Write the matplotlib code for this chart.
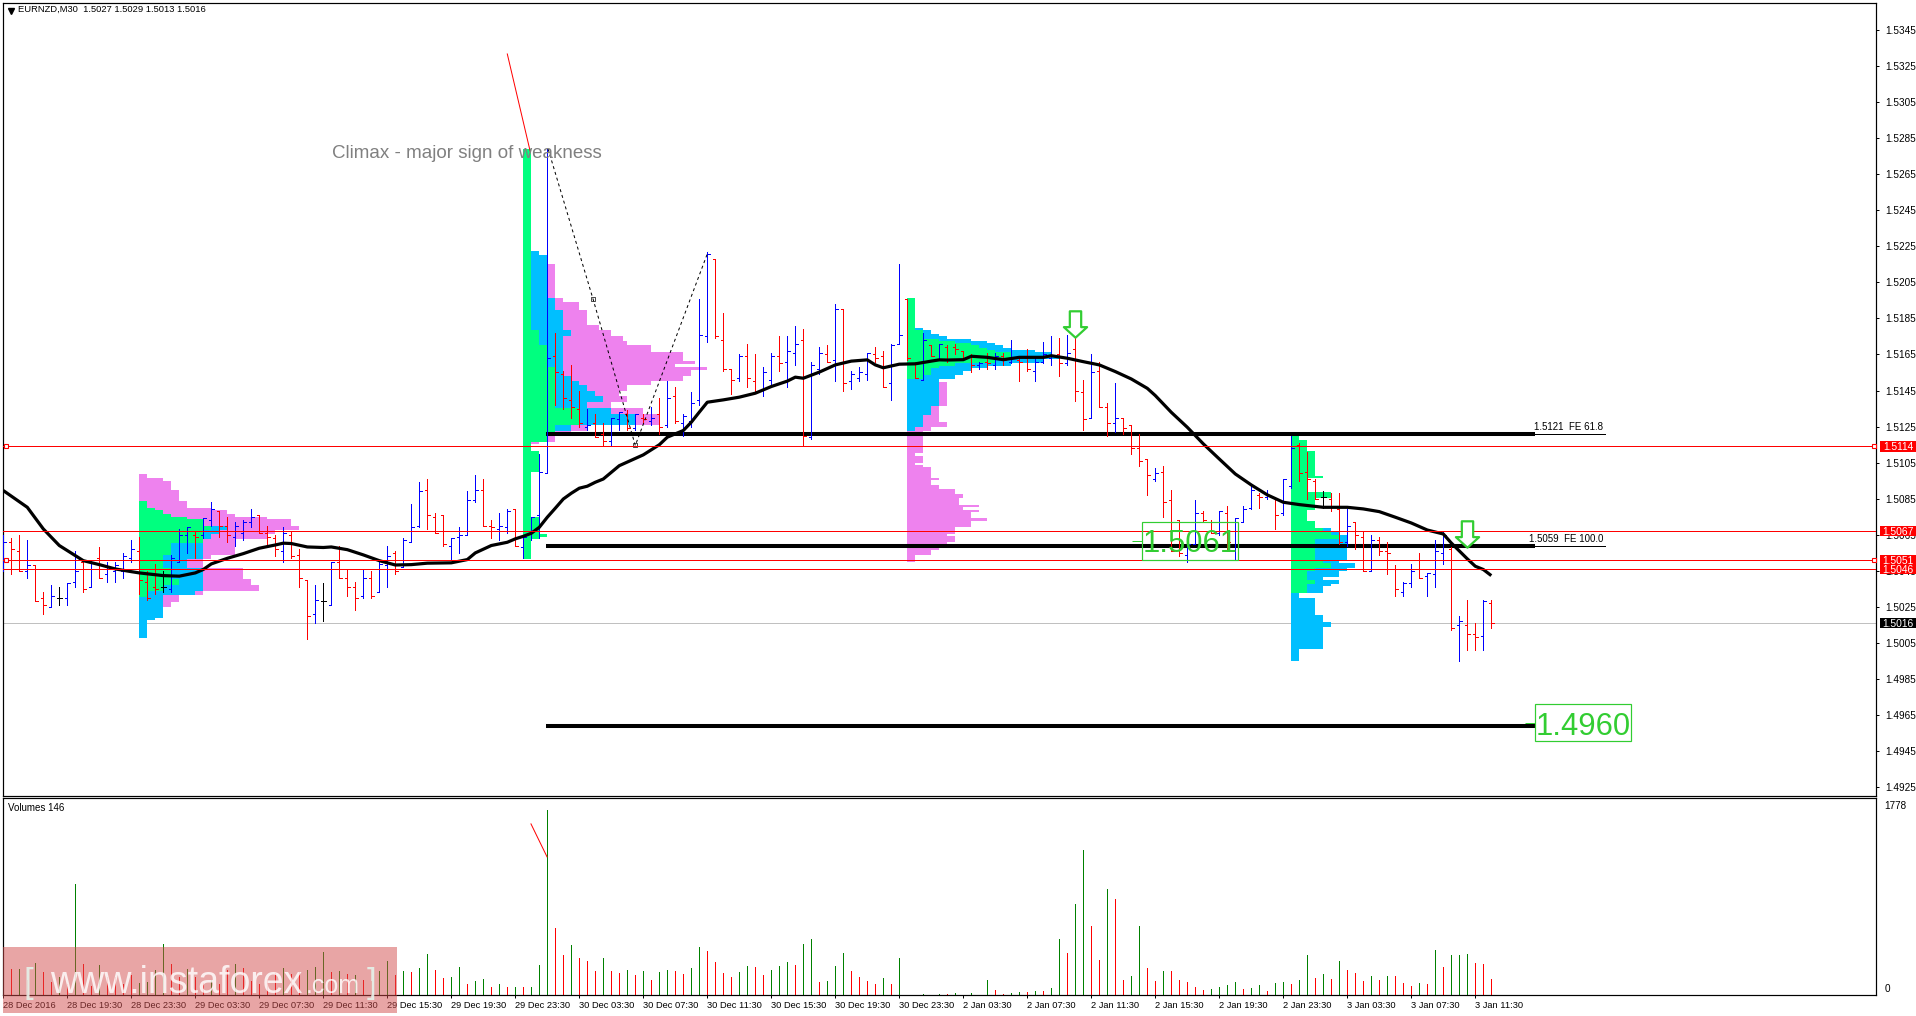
import numpy as np
import matplotlib
matplotlib.use("Agg")
import matplotlib.pyplot as plt
from matplotlib.patches import Rectangle
from matplotlib.path import Path
from matplotlib.transforms import blended_transform_factory

plt.rcParams['font.family'] = ['Liberation Sans', 'DejaVu Sans']

# EURNZD M30 bars, prices in pips (value / 10000)
bar_high = [15065,15063,15065,15062,15048,15033,15037,15036,15038,15056,
    15050,15051,15058,15050,15050,15055,15062,15064,15045,15049,
    15045,15054,15068,15069,15067,15074,15083,15078,15075,15072,
    15073,15079,15076,15070,15065,15069,15067,15057,15040,15037,
    15038,15050,15059,15046,15039,15046,15045,15050,15059,15056,
    15063,15082,15094,15096,15077,15076,15063,15069,15089,15098,
    15096,15073,15077,15079,15079,15065,15075,15110,15279,15177,
    15156,15159,15145,15135,15132,15127,15130,15133,15134,15132,
    15132,15136,15141,15150,15147,15132,15144,15196,15222,15218,
    15188,15157,15165,15171,15165,15158,15166,15175,15175,15181,
    15179,15161,15169,15170,15193,15190,15156,15158,15166,15169,
    15167,15171,15215,15196,15161,15177,15170,15171,15170,15171,
    15167,15165,15161,15166,15166,15166,15173,15163,15168,15163,
    15172,15175,15174,15176,15179,15151,15165,15161,15138,15149,
    15130,15126,15121,15107,15102,15103,15090,15073,15063,15084,
    15078,15073,15078,15081,15074,15081,15092,15088,15090,15086,
    15096,15120,15116,15111,15096,15089,15088,15088,15079,15072,
    15067,15065,15064,15061,15048,15039,15049,15055,15044,15062,
    15067,15058,15020,15029,15016,15029,15029]
bar_low = [15045,15043,15045,15041,15028,15021,15025,15026,15026,15036,
    15033,15036,15041,15039,15039,15041,15050,15032,15029,15032,
    15033,15033,15050,15055,15052,15063,15070,15064,15061,15059,
    15062,15069,15066,15060,15053,15050,15052,15036,15007,15016,
    15017,15026,15041,15031,15023,15030,15030,15033,15036,15043,
    15047,15061,15069,15068,15066,15059,15051,15055,15065,15083,
    15070,15063,15062,15066,15059,15052,15062,15063,15099,15137,
    15135,15130,15125,15123,15119,15115,15115,15123,15123,15123,
    15127,15126,15121,15125,15127,15120,15125,15137,15172,15174,
    15156,15143,15150,15147,15144,15142,15148,15156,15147,15159,
    15115,15118,15154,15161,15150,15145,15146,15150,15151,15161,
    15147,15140,15171,15162,15152,15151,15164,15162,15161,15165,
    15163,15155,15157,15157,15157,15159,15160,15150,15156,15150,
    15160,15159,15153,15159,15139,15123,15130,15136,15120,15122,
    15121,15110,15103,15087,15095,15075,15056,15053,15050,15060,
    15072,15066,15065,15056,15051,15072,15079,15080,15085,15068,
    15076,15091,15095,15085,15085,15080,15078,15060,15059,15057,
    15045,15045,15054,15043,15031,15031,15036,15041,15031,15036,
    15049,15012,14995,15001,15001,15001,15013]
bar_open = [15060,15061,15056,15045,15048,15030,15025,15030,15030,15039,
    15050,15036,15052,15043,15045,15045,15052,15056,15039,15036,
    15036,15035,15050,15065,15065,15065,15073,15078,15070,15064,
    15066,15072,15076,15066,15063,15056,15065,15054,15040,15021,
    15028,15026,15050,15041,15036,15031,15041,15033,15048,15055,
    15047,15061,15070,15090,15075,15076,15059,15064,15065,15084,
    15090,15070,15068,15069,15079,15058,15066,15076,15099,15164,
    15154,15140,15135,15125,15127,15121,15117,15129,15132,15124,
    15130,15128,15132,15126,15142,15127,15128,15140,15175,15218,
    15173,15157,15152,15164,15150,15146,15151,15164,15161,15166,
    15173,15119,15157,15165,15162,15190,15150,15152,15154,15165,
    15164,15149,15171,15196,15160,15151,15170,15162,15169,15169,
    15167,15164,15159,15161,15159,15164,15161,15162,15163,15156,
    15161,15163,15165,15160,15168,15144,15130,15156,15136,15127,
    15130,15126,15113,15107,15096,15100,15084,15073,15054,15060,
    15077,15072,15066,15077,15051,15072,15080,15087,15086,15086,
    15077,15092,15115,15100,15095,15086,15085,15079,15061,15072,
    15064,15045,15062,15056,15046,15033,15038,15046,15042,15043,
    15055,15057,15015,15015,15010,15009,15027]
bar_close = [15061,15057,15045,15048,15028,15026,15031,15030,15038,15045,
    15035,15051,15041,15047,15048,15053,15057,15040,15030,15035,
    15036,15052,15065,15069,15064,15074,15079,15070,15065,15070,
    15072,15075,15066,15064,15057,15066,15053,15041,15020,15029,
    15028,15050,15041,15036,15030,15041,15031,15049,15053,15045,
    15062,15069,15089,15076,15066,15060,15063,15065,15084,15090,
    15070,15069,15070,15078,15059,15064,15075,15100,15163,15155,
    15141,15136,15127,15126,15119,15117,15130,15133,15124,15132,
    15129,15130,15125,15141,15128,15131,15138,15176,15221,15175,
    15157,15151,15164,15152,15145,15155,15164,15160,15167,15171,
    15120,15159,15166,15161,15190,15149,15154,15155,15166,15163,
    15147,15170,15176,15163,15152,15173,15164,15171,15162,15168,
    15163,15159,15160,15160,15164,15162,15163,15161,15157,15161,
    15165,15164,15160,15166,15145,15129,15155,15136,15127,15130,
    15124,15113,15106,15098,15099,15083,15056,15055,15060,15077,
    15073,15066,15078,15061,15074,15079,15090,15086,15087,15076,
    15096,15113,15099,15096,15085,15086,15081,15061,15070,15065,
    15045,15062,15056,15055,15035,15038,15045,15041,15044,15056,
    15065,15013,15017,15010,15008,15028,15016]

# moving average, read at these bars
ma_idx = [0,3,5,7,9,10,12,14,16,17,20,22,24,25,26,28,30,32,34,35,36,38,40,41,43,45,47,49,51,53,56,58,59,61,
    62,63,64,65,66,67,68,69,70,71,72,73,74,75,76,77,78,80,82,83,85,86,87,88,90,92,94,96,98,99,100,102,104,
    106,108,109,110,112,114,116,117,118,120,121,123,125,127,130,131,133,135,137,139,141,143,144,146,148,150,
    152,154,156,158,160,162,165,168,170,172,174,176,178,180,181,183,184,185,186]
ma_val = [15089.5,15080.2,15068.2,15059,15053.4,15050.6,15048.4,15046,15044.5,15043.8,15042.3,15042,15043.8,
    15045.7,15048.8,15051.9,15054.5,15057.5,15059.3,15060.3,15060.1,15058.2,15057.9,15058.2,15056.7,15053.8,
    15050.6,15048.2,15048.4,15049.2,15049.4,15051.2,15054.9,15059,
    15059.9,15060.8,15062.7,15064.1,15065.8,15069.1,15074.7,15079.7,15084.8,15088,15090.8,15091.9,15094.1,
    15095.9,15099.6,15103.3,15105.3,15109.3,15114.9,15119.1,15122.8,15127.4,15133,15138.5,15139.8,15141.3,
    15143.5,15147.2,15150.2,15152.4,15151.8,15155.2,15159.2,15161.3,15162,15159.2,15157.6,15159.6,15159.8,
    15161.3,15162,15161.9,15162.1,15164,15163.4,15162.1,15163.4,15163.4,15164.3,15162.9,15161,15159.2,15155.5,
    15151.4,15146.2,15142.2,15132.9,15124.6,15115.4,15107,15098.7,15092.6,15087.1,15083,15081.7,15080.2,
    15080.2,15079.3,15077.8,15074.7,15071.5,15067.6,15065.4,15060.4,15051.6,15047.5,15045.7,15042.3]

volumes = [250,250,252,144,307,221,125,173,106,1066,298,86,288,173,173,106,192,118,125,240,
    490,298,176,250,173,115,144,106,240,298,259,134,106,154,211,259,202,221,240,269,
    413,221,230,202,192,144,134,230,326,192,230,221,259,394,240,163,173,269,106,134,
    154,77,106,77,77,77,77,288,1778,643,384,480,355,326,230,355,230,211,240,192,
    230,144,221,240,230,202,259,461,422,317,211,173,221,278,269,192,240,278,317,288,
    490,538,125,134,278,403,230,173,134,106,163,106,355,2,2,10,2,10,10,19,
    2,19,2,144,48,10,19,29,29,38,38,67,538,403,874,1392,662,336,1018,922,
    144,182,662,259,134,230,230,144,125,77,48,58,77,96,125,58,67,96,38,115,
    125,106,144,384,163,202,154,326,240,211,134,182,144,182,182,115,86,115,106,432,
    269,384,384,394,307,298,154]
vol_dirs = ("grgrgrrgrg" "rrgrrrrggg" "grrgrrgrrg" "rrrrrgrrgg" "grgrgrrggr"
            "grggrrggrg" "grgrgrgggr" "rgrrrgrrgr" "grggrrggrr" "rrggrrgggr"
            "ggrgggrrrr" "grgrrgrgrg" "rgrgrrggrg" "rggrggrrgr" "rggrrgrrrr"
            "rggggrggrg" "grggrgrgrr" "rgrgrrrgrg" "rgggrrr")

# volume profiles: row edges in pips, cumulative widths in bars (green, blue, pink)
vp1_start = 17
vp1_edges = [15098.7,15096.5,15094.8,15090,15083.9,15079.8,15078.7,15076.5,15075,15073.7,15069.9,15067.6,15065.4,
    15062.7,15060.4,15053.8,15051.6,15050.1,15046.4,15040.5,15037.3,15034,15031.8,15030.3,15027.9,15025.1,
    15018.8,15017.7,15016.4,15007.8]
vp1_g = [0,0,0,0,1,2,3,4,6,8,9,8,8,8,4,3,3,3,4,5,3,1,1,0,0,0,0,0,0]
vp1_b = [0,0,0,0,1,2,3,4,6,8,11,10,9,8,8,8,6,6,8,8,8,7,3,3,3,3,2,1,1]
vp1_p = [1,3,4,5,6,9,11,12,16,19,20,17,16,12,12,9,8,8,13,14,15,8,5,5,4,3,2,1,1]

vp2_start = 65
vp2_edges = [15279,15222.4,15219.9,15215.2,15196.4,15194,15189.4,15181.4,15178.6,15175.5,15172.5,15170,15166.6,
    15161.6,15159.8,15157.9,15156.5,15153.3,15150.5,15147.8,15145,15141.7,15138.5,15135.2,15132,15125.6,
    15122.8,15120,15116.3,15115.2,15111.6,15100,15074.7,15065.4,15063.6,15062.7,15051.6]
vp2_g = [1,1,1,1,1,1,1,1,2,2,2,3,3,3,3,4,4,4,4,4,4,4,4,7,7,4,4,3,1,1,2,1,2,3,2,1]
vp2_b = [1,2,3,3,4,4,5,5,6,5,5,5,5,5,5,5,5,6,7,8,9,10,8,11,14,6,4,3,1,1,2,1,2,3,2,1]
vp2_p = [1,2,3,4,5,7,8,9.5,11,12.5,13,16,20,21.5,19,23,21,20,16,13,12,13,11,15,17,8,6,4,2,1,2,1,2,3,2,1]

vp3_start = 113
vp3_edges = [15196.3,15179.7,15178.6,15176.4,15175.1,15173.6,15172.5,15171.6,15170.3,15168.8,15167.5,15166.2,15164,
    15162.5,15160.3,15158.8,15157.5,15156,15153.6,15151.4,15149.6,15136.6,15131.6,15127.4,15124.6,15122.8,
    15120.9,15110.4,15108.5,15104.8,15103.7,15102.6,15096.3,15095.4,15092.6,15090.4,15087.6,15085.4,15081.7,
    15080.2,15078.8,15077.5,15074.1,15072.7,15069,15065.5,15064.2,15061.2,15058.1,15056.6,15053.8,15049.8]
vp3_g = [1,1,2,2,2,4,6,8,9,10,11,13,13,11,6,4,3,3,2,0] + [0] * 31
vp3_b = [1,2,3,4,5,8,10,11,12,13,16,18,19,17,13,10,8,7,6,4,4,3,2,2,1] + [0] * 26
vp3_p = [1,2,3,4,5,8,10,11,12,13,16,18,19,17,13,10,8,7,6,4,5,4,4,5,3,2,2,1,2,1,2,3,4,3,4,6,7,6.5,9,7,9,8,
    10,8,6,5,6,5,4,3,1]

vp4_start = 161
vp4_edges = [15120.3,15117.6,15111.5,15097.8,15096.5,15088.9,15085.2,15078.9,15072.8,15068.8,15066.4,15065,15062.7,
    15050.6,15049.2,15046.4,15045.1,15041.4,15039.9,15037.7,15036.4,15032.7,15029.9,15020.5,15016.4,15013.9,
    15001.7,14995.2]
vp4_g = [1,2,3,4,2,5,3,2,3,4,5,6,3,4,5,3,2,2,3,2,2,0,0,0,0,0,0]
vp4_b = [1,2,3,4,2,5,3,2,3,5,6,7,7,6,8,7,6,4,6,5,4,1,3,4,5,4,1]

# horizontal levels
red_levels = [1.5114, 1.5067, 1.5051, 1.5046]
red_labels = ["1.5114", "1.5067", "1.5051", "1.5046"]
last_price = 1.5016
thick_levels = [1.5121, 1.5059, 1.4959]
thick_start = [67.8, 67.8, 67.8]
thick_end = [191.4, 191.4, 191.4]
thin_end = [200.2, 200.2, 191.4]
level_names = ["1.5121  FE 61.8", "1.5059  FE 100.0", ""]

# dashed zigzag and the red climax line
zig_x = [68.1, 73.7, 79, 88.1]
zig_p = [1.5279, 1.5196, 1.51145, 1.5222]
climax_x = [63, 65.85]
climax_p = [1.53317, 1.52779]
climax_vol_x = [65.96, 67.97]
climax_vol_y = [1644, 1327]

arrow_x = [134, 183]
arrow_p = [1.51819, 1.50654]

# boxed target prices: label, bar range of the box, price range of the box
box_labels = ["1.5061", "1.4960"]
box_x0 = [142.3, 191.4]
box_x1 = [154.3, 203.5]
box_top = [1.50722, 1.49708]
box_bottom = [1.50511, 1.49503]

price_ticks = [1.5345 - 0.002 * k for k in range(22)]
tick_idx = list(range(0, 185, 8))
tick_labels = ["28 Dec 2016", "28 Dec 19:30", "28 Dec 23:30", "29 Dec 03:30", "29 Dec 07:30", "29 Dec 11:30",
    "29 Dec 15:30", "29 Dec 19:30", "29 Dec 23:30", "30 Dec 03:30", "30 Dec 07:30", "30 Dec 11:30",
    "30 Dec 15:30", "30 Dec 19:30", "30 Dec 23:30", "2 Jan 03:30", "2 Jan 07:30", "2 Jan 11:30",
    "2 Jan 15:30", "2 Jan 19:30", "2 Jan 23:30", "3 Jan 03:30", "3 Jan 07:30", "3 Jan 11:30"]

W, H = 1916, 1016
LEFT, RIGHT = 2.5, 1876.3
GREEN = '#00FF7F'
BLUE = '#00BFFF'
PINK = '#EE82EE'
LIME = '#32CD32'
PX = 0.72  # one pixel in points


def axes_rect(top, bottom):
    return [LEFT / W, 1 - bottom / H, (RIGHT - LEFT) / W, (bottom - top) / H]


def draw_profile(ax, start, edges, green, blue, pink):
    edges = np.array(edges) / 10000
    mid = (edges[:-1] + edges[1:]) / 2
    height = edges[:-1] - edges[1:]
    for widths, color in ((pink, PINK), (blue, BLUE), (green, GREEN)):
        ax.barh(mid, widths, height=height, left=start, color=color, linewidth=0, zorder=1, antialiased=False)


fig = plt.figure(figsize=(W / 100, H / 100), dpi=100, facecolor='white')
ax = fig.add_axes(axes_rect(2.5, 796))
vol = fig.add_axes(axes_rect(798.3, 995))

xlim = ((LEFT - 3.3) / 8, (RIGHT - 3.3) / 8)
ax.set_xlim(xlim)
ax.set_ylim(1.5345 - 766 / 18025, 1.5345 + 27.5 / 18025)
vol.set_xlim(xlim)
vol.set_ylim(0, 1890)

draw_profile(ax, vp1_start, vp1_edges, vp1_g, vp1_b, vp1_p)
draw_profile(ax, vp2_start, vp2_edges, vp2_g, vp2_b, vp2_p)
draw_profile(ax, vp3_start, vp3_edges, vp3_g, vp3_b, vp3_p)
draw_profile(ax, vp4_start, vp4_edges, vp4_g, vp4_b, vp4_b)

# levels under the bars
for p, x0, x1, x2 in zip(thick_levels, thick_start, thick_end, thin_end):
    ax.hlines(p, x0, x1, color='black', lw=2.9, zorder=2)
    ax.hlines(p, x1, x2, color='black', lw=PX, zorder=2, antialiased=False)
for p, name, in zip(thick_levels, level_names):
    if name:
        ax.text(200.0, p + 0.00036, name, ha='right', va='center', fontsize=7, color='black', zorder=7)

# OHLC bars
x = np.arange(len(bar_high))
o = np.array(bar_open) / 10000
c = np.array(bar_close) / 10000
colors = ['#0000FF' if b > a else '#FF0000' if b < a else 'black' for a, b in zip(bar_open, bar_close)]
ax.vlines(x, np.array(bar_low) / 10000, np.array(bar_high) / 10000, colors=colors, lw=PX, zorder=3, antialiased=False)
ax.hlines(o, x - 0.3, x, colors=colors, lw=PX, zorder=3, antialiased=False)
ax.hlines(c, x, x + 0.3, colors=colors, lw=PX, zorder=3, antialiased=False)

ax.plot(ma_idx, np.array(ma_val) / 10000, color='black', lw=2.3, zorder=4, solid_capstyle='butt')
ax.plot(zig_x, zig_p, color='black', lw=PX, ls=(0, (3, 3)), zorder=4)
ax.plot(climax_x, climax_p, color='#FF0000', lw=PX, zorder=5)
ax.plot(zig_x[1:3], zig_p[1:3], ls='none', marker='s', ms=3, mfc='none', mec='black', mew=0.5, zorder=5)

# red lines and the last price line
ax.hlines(red_levels, *xlim, color='#FF0000', lw=PX, zorder=5, antialiased=False)
ax.hlines(last_price, *xlim, color='#C0C0C0', lw=PX, zorder=0.5, antialiased=False)
for p in (red_levels[0], red_levels[2]):
    ax.plot([0.3, 233.8], [p, p], ls='none', marker='s', ms=3.2, mfc='white', mec='#FF0000', mew=0.8,
            zorder=6, clip_on=False)

# price boxes on the right axis
box_tr = blended_transform_factory(ax.transAxes, ax.transData)
box_x = 1 + 3.7 / (RIGHT - LEFT)
box_w = 36 / (RIGHT - LEFT)
box_h = 10.5 / 18025
for p, label, color in list(zip(red_levels, red_labels, ['#FF0000'] * 4)) + [(last_price, "1.5016", 'black')]:
    ax.add_patch(Rectangle((box_x, p - box_h / 2), box_w, box_h, transform=box_tr, facecolor=color,
                           edgecolor='none', clip_on=False, zorder=8))
    ax.text(box_x + box_w / 2, p, label, transform=box_tr, color='white', fontsize=7.4, ha='center',
            va='center_baseline', zorder=9, clip_on=False)

# green arrows
arrow = Path([(-0.43, 1), (0.43, 1), (0.43, -0.2), (0.88, -0.2), (0, -1), (-0.88, -0.2), (-0.43, -0.2), (-0.43, 1)],
             closed=True)
ax.plot(arrow_x, arrow_p, ls='none', marker=arrow, ms=19, mfc='white', mec=LIME, mew=1.6, zorder=6)

# boxed prices
for label, x0, x1, top, bottom in zip(box_labels, box_x0, box_x1, box_top, box_bottom):
    ax.add_patch(Rectangle((x0, bottom), x1 - x0, top - bottom, facecolor='none', edgecolor=LIME, lw=PX * 1.2, zorder=6))
    ax.text((x0 + x1) / 2, (top + bottom) / 2 - 0.0002, label, color=LIME, fontsize=22.3, ha='center', va='center',
            zorder=6)
    ax.hlines((top + bottom) / 2, x0 - 1.2, x0, color=LIME, lw=PX, zorder=6)

ax.text(0.1758, 0.8100, "Climax - major sign of weakness", transform=ax.transAxes, color='#808080',
        fontsize=13.5, ha='left', va='center', zorder=7)
ax.text(15.5 / (RIGHT - LEFT), 0.9918, "EURNZD,M30  1.5027 1.5029 1.5013 1.5016", transform=ax.transAxes,
        color='black', fontsize=6.75, ha='left', va='center', zorder=7)
ax.plot([8.5 / (RIGHT - LEFT)], [0.9895], transform=ax.transAxes, marker='v', ms=4.5, color='black', zorder=7)

ax.yaxis.tick_right()
ax.set_yticks(price_ticks)
ax.set_yticklabels(["%.4f" % p for p in price_ticks])
ax.tick_params(axis='y', length=2.2, width=PX, labelsize=7.2, pad=4)
ax.tick_params(axis='x', length=0, labelbottom=False)

# volumes
vol_colors = ['#008000' if d == 'g' else '#FF0000' for d in vol_dirs]
vol.vlines(np.arange(len(volumes)), 0, volumes, colors=vol_colors, lw=PX, antialiased=False)
vol.plot(climax_vol_x, climax_vol_y, color='#FF0000', lw=PX)
vol.set_xticks(tick_idx)
vol.set_xticklabels(tick_labels, ha='left')
vol.tick_params(axis='x', length=2.2, width=PX, labelsize=6.7, pad=2.2)
vol.yaxis.tick_right()
vol.set_yticks([])
vol.text(5.5 / (RIGHT - LEFT), 0.95, "Volumes 146", transform=vol.transAxes, fontsize=7, ha='left', va='center')
vol.text(1 + 1.5 / (RIGHT - LEFT) + 0.0035, 0.962, "1778", transform=vol.transAxes, fontsize=7.2, ha='left',
         va='center', clip_on=False)
vol.text(1 + 1.5 / (RIGHT - LEFT) + 0.0035, 0.032, "0", transform=vol.transAxes, fontsize=7.2, ha='left',
         va='center', clip_on=False)

for a in (ax, vol):
    for s in a.spines.values():
        s.set_linewidth(PX * 1.2)
        s.set_color('black')

# watermark over the volume panel
fig.add_artist(Rectangle((3 / W, 1 - 1013 / H), 394 / W, 66 / H, transform=fig.transFigure, facecolor='#D34D4D',
                         edgecolor='none', alpha=0.5, zorder=10))
wm_y = 1 - 993 / H
fig.text(50 / W, wm_y, "www.instaforex", color='white', alpha=0.82, fontsize=27, ha='left', va='baseline', zorder=11)
fig.text(306 / W, wm_y, ".com", color='white', alpha=0.82, fontsize=18, ha='left', va='baseline', zorder=11)
fig.text(24 / W, wm_y, "[", color='#E4F2EA', alpha=0.9, fontsize=25, ha='left', va='baseline', zorder=11)
fig.text(367 / W, wm_y, "]", color='#E4F2EA', alpha=0.9, fontsize=25, ha='left', va='baseline', zorder=11)

fig.savefig("out.png", dpi=100)
